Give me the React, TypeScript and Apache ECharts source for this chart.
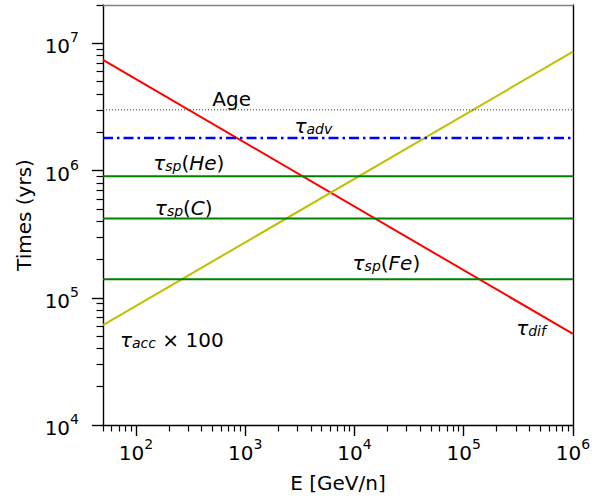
import React, { useEffect, useRef } from "react";
import * as echarts from "echarts";

// ---- data (raw values; axes are log10) ----
const E_RANGE = [50, 1e6];
const TAU_DIF = [7.4e6, 5.2e4];
const TAU_ACC = [6.1e4, 8.6e6];
const AGE = 3e6;
const TAU_ADV = 1.8e6;
const TAU_SP_HE = 9e5;
const TAU_SP_C = 4.2e5;
const TAU_SP_FE = 1.4e5;

const X_MAJOR = [1e2, 1e3, 1e4, 1e5, 1e6];
const Y_MAJOR = [1e4, 1e5, 1e6, 1e7];
const X_DECADES = [10, 100, 1000, 10000, 100000];
const Y_DECADES = [1e4, 1e5, 1e6, 1e7];
const MINOR_MULT = [2, 3, 4, 5, 6, 7, 8, 9];
const Y_MAX = 2e7;

const ANNOT_TEXT = [
  "{n|Age}",
  "{t|τ}{sub|adv}",
  "{t|τ}{sub|sp}{n|(}{i|He}{n|)}",
  "{t|τ}{sub|sp}{n|(}{i|C}{n|)}",
  "{t|τ}{sub|sp}{n|(}{i|Fe}{n|)}",
  "{t|τ}{sub|acc}{n| × 100}",
  "{t|τ}{sub|dif}",
];
const ANNOT_E = [753, 4.2e3, 305, 274, 1.96e4, 213, 4.13e5];
const ANNOT_T = [3.63e6, 2.23e6, 1.14e6, 5.06e5, 1.87e5, 4.65e4, 5.77e4];

const L = Math.log10;
const FONT = "DejaVu Sans";

export default function App() {
  const ref = useRef<HTMLDivElement>(null);
  useEffect(() => {
    document.body.style.margin = "0";
    const chart = echarts.init(ref.current!, undefined, { renderer: "svg" });
    const xmin = L(E_RANGE[0]);
    const xmax = L(E_RANGE[1]);
    const ymin = L(Y_MAJOR[0]);
    const ymax = L(Y_MAX);
    const xMinor: number[] = [];
    X_DECADES.forEach((d) =>
      MINOR_MULT.forEach((m) => {
        const v = L(d * m);
        if (v >= xmin - 1e-9 && v <= xmax + 1e-9) xMinor.push(v);
      })
    );
    const yMinor: number[] = [];
    Y_DECADES.forEach((d) =>
      MINOR_MULT.forEach((m) => {
        const v = L(d * m);
        if (v >= ymin - 1e-9 && v <= ymax + 1e-9) yMinor.push(v);
      })
    );
    const tickRich = {
      b: { fontSize: 20, fontFamily: FONT, color: "#000", lineHeight: 26, verticalAlign: "bottom" },
      s: { fontSize: 14, fontFamily: FONT, color: "#000", lineHeight: 8, verticalAlign: "top" },
    };
    const fmt = (v: number) => `{b|10}{s|${Math.round(v)}}`;
    const axisLineBlack = { show: true, lineStyle: { color: "#000", width: 1.4 } };
    const hLine = (v: number) => [
      [xmin, L(v)],
      [xmax, L(v)],
    ];
    const base = { fontFamily: FONT, color: "#000", opacity: 1, textBorderWidth: 0 };
    const annotRich = {
      t: { ...base, fontSize: 20, fontStyle: "italic" },
      sub: { ...base, fontSize: 14, fontStyle: "italic", verticalAlign: "bottom", lineHeight: 8 },
      n: { ...base, fontSize: 20 },
      i: { ...base, fontSize: 20, fontStyle: "italic" },
    };
    chart.setOption({
      animation: false,
      textStyle: { fontFamily: FONT },
      grid: { left: 103, right: 33, top: 5, bottom: 73, containLabel: false, outerBoundsMode: "none" },
      xAxis: [
        {
          type: "value",
          min: xmin,
          max: xmax,
          position: "bottom",
          axisLine: axisLineBlack,
          axisTick: { show: true, customValues: X_MAJOR.map(L), length: 11, lineStyle: { color: "#000", width: 1.4 } },
          axisLabel: { show: true, customValues: X_MAJOR.map(L), formatter: fmt, rich: tickRich, margin: 12 },
          splitLine: { show: false },
          name: "E [GeV/n]",
          nameLocation: "middle",
          nameGap: 48,
          nameTextStyle: { fontSize: 20, fontFamily: FONT, color: "#000" },
        },
        {
          type: "value",
          min: xmin,
          max: xmax,
          position: "bottom",
          axisLine: { show: false },
          axisTick: { show: true, customValues: xMinor, length: 6.5, lineStyle: { color: "#000", width: 1.2 } },
          axisLabel: { show: false },
          splitLine: { show: false },
        },
        {
          type: "value",
          min: xmin,
          max: xmax,
          position: "top",
          axisLine: { show: true, lineStyle: { color: "#808080", width: 1.4 } },
          axisTick: { show: false },
          axisLabel: { show: false },
          splitLine: { show: false },
        },
      ],
      yAxis: [
        {
          type: "value",
          min: ymin,
          max: ymax,
          position: "left",
          axisLine: axisLineBlack,
          axisTick: { show: true, customValues: Y_MAJOR.map(L), length: 11, lineStyle: { color: "#000", width: 1.4 } },
          axisLabel: { show: true, customValues: Y_MAJOR.map(L), formatter: fmt, rich: tickRich, margin: 24 },
          splitLine: { show: false },
          name: "Times (yrs)",
          nameLocation: "middle",
          nameGap: 66,
          nameTextStyle: { fontSize: 20, fontFamily: FONT, color: "#000" },
        },
        {
          type: "value",
          min: ymin,
          max: ymax,
          position: "left",
          axisLine: { show: false },
          axisTick: { show: true, customValues: yMinor, length: 6.5, lineStyle: { color: "#000", width: 1.2 } },
          axisLabel: { show: false },
          splitLine: { show: false },
        },
        {
          type: "value",
          min: ymin,
          max: ymax,
          position: "right",
          axisLine: axisLineBlack,
          axisTick: { show: false },
          axisLabel: { show: false },
          splitLine: { show: false },
        },
      ],
      series: [
        {
          type: "line",
          name: "tau_dif",
          data: E_RANGE.map((e, i) => [L(e), L(TAU_DIF[i])]),
          showSymbol: false,
          lineStyle: { color: "#ff0000", width: 2 },
          silent: true,
        },
        {
          type: "line",
          name: "tau_acc",
          data: E_RANGE.map((e, i) => [L(e), L(TAU_ACC[i])]),
          showSymbol: false,
          lineStyle: { color: "#bfbf00", width: 2 },
          silent: true,
        },
        {
          type: "line",
          name: "Age",
          data: hLine(AGE),
          showSymbol: false,
          lineStyle: { color: "#333", width: 1, type: [1, 2] },
          silent: true,
        },
        {
          type: "line",
          name: "tau_adv",
          data: hLine(TAU_ADV),
          showSymbol: false,
          lineStyle: { color: "#0000ff", width: 2.5, type: [10, 4, 2.5, 4] },
          silent: true,
        },
        ...[TAU_SP_HE, TAU_SP_C, TAU_SP_FE].map((v) => ({
          type: "line",
          data: hLine(v),
          showSymbol: false,
          lineStyle: { color: "#008000", width: 2 },
          silent: true,
        })),
        {
          type: "scatter",
          symbolSize: 0,
          silent: true,
          itemStyle: { opacity: 1, color: "#000" },
          data: ANNOT_TEXT.map((t, i) => ({
            value: [L(ANNOT_E[i]), L(ANNOT_T[i])],
            label: { formatter: t },
          })),
          label: { show: true, position: "inside", rich: annotRich, ...base },
        },
      ],
    });
    return () => chart.dispose();
  }, []);
  return <div ref={ref} style={{ width: 606, height: 498 }} />;
}
